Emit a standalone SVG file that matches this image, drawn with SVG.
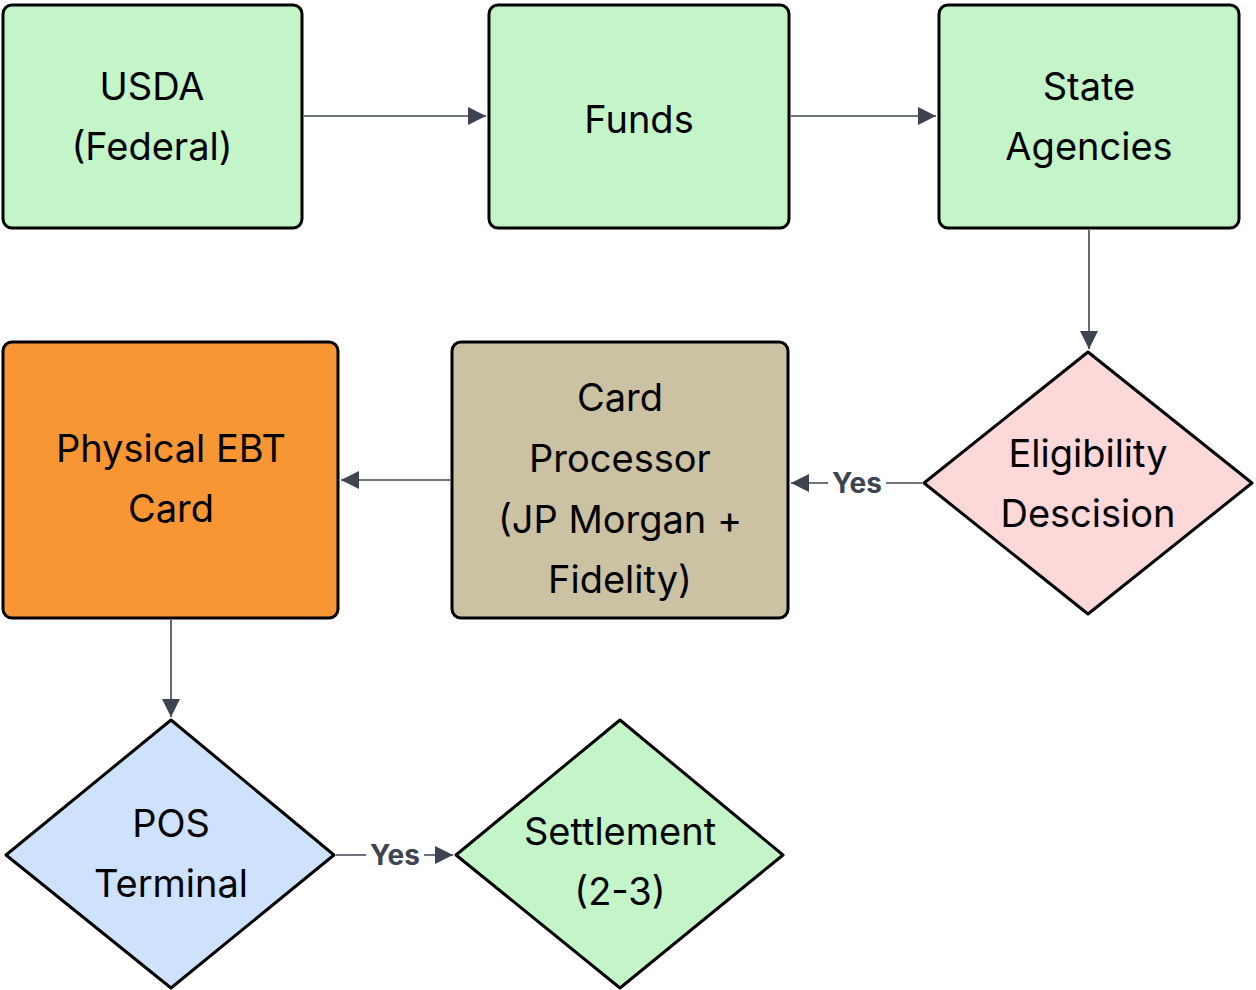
<svg xmlns="http://www.w3.org/2000/svg" width="1256" height="990" viewBox="0 0 1256 990">
<style>
.n{stroke:#000;stroke-width:3;stroke-linejoin:round}
.t{font-family:Inter,"Liberation Sans",sans-serif;font-size:38px;fill:#000;text-anchor:middle}
.e{stroke:#3d4350;stroke-width:1.6;fill:none}
.y{font-family:Inter,"Liberation Sans",sans-serif;font-size:28px;font-weight:bold;fill:#3d4350;text-anchor:middle}
</style>
<defs><marker id="a" viewBox="0 0 10 10" refX="10" refY="5" markerWidth="18" markerHeight="18" markerUnits="userSpaceOnUse" orient="auto"><path d="M0,0L10,5L0,10z" fill="#3d4350"/></marker></defs>
<rect width="1256" height="990" fill="#fff"/>
<g id="usda"><rect class="n" x="3" y="5" width="299" height="223" rx="9" fill="#c3f5c8"/><text class="t" x="152" y="100">USDA</text><text class="t" x="152" y="160">(Federal)</text></g>
<g id="funds"><rect class="n" x="489" y="5" width="300" height="223" rx="9" fill="#c3f5c8"/><text class="t" x="639" y="133">Funds</text></g>
<g id="state"><rect class="n" x="939" y="5" width="300" height="223" rx="9" fill="#c3f5c8"/><text class="t" x="1089" y="100">State</text><text class="t" x="1089" y="160">Agencies</text></g>
<g id="elig"><path class="n" d="M1088,352 L1252,483 L1088,614 L924,483 Z" fill="#fdd8d9"/><text class="t" x="1088" y="467">Eligibility</text><text class="t" x="1088" y="527">Descision</text></g>
<g id="proc"><rect class="n" x="452" y="342" width="336" height="276" rx="9" fill="#cbc2a4"/><text class="t" x="620" y="411">Card</text><text class="t" x="620" y="472">Processor</text><text class="t" x="620" y="533">(JP Morgan +</text><text class="t" x="620" y="593">Fidelity)</text></g>
<g id="card"><rect class="n" x="3" y="342" width="335" height="276" rx="9" fill="#f99634"/><text class="t" x="171" y="462">Physical EBT</text><text class="t" x="171" y="522">Card</text></g>
<g id="pos"><path class="n" d="M171,720 L334,855 L171,988 L6,855 Z" fill="#cfe2fd"/><text class="t" x="171" y="837">POS</text><text class="t" x="171" y="897">Terminal</text></g>
<g id="settle"><path class="n" d="M620,720 L783,855 L620,988 L456,855 Z" fill="#c3f5c8"/><text class="t" x="620" y="845">Settlement</text><text class="t" x="620" y="905">(2-3)</text></g>
<g id="edges">
<path class="e" d="M304,116 H486" marker-end="url(#a)"/>
<path class="e" d="M791,116 H936" marker-end="url(#a)"/>
<path class="e" d="M1089,230 V349" marker-end="url(#a)"/>
<path class="e" d="M922,483 H791" marker-end="url(#a)"/>
<path class="e" d="M450,480 H341" marker-end="url(#a)"/>
<path class="e" d="M171,620 V717" marker-end="url(#a)"/>
<path class="e" d="M336,855 H453" marker-end="url(#a)"/>
<rect x="828" y="468" width="58" height="30" fill="#fff"/><text class="y" x="857" y="493">Yes</text>
<rect x="366" y="840" width="58" height="30" fill="#fff"/><text class="y" x="395" y="865">Yes</text>
</g>
</svg>
